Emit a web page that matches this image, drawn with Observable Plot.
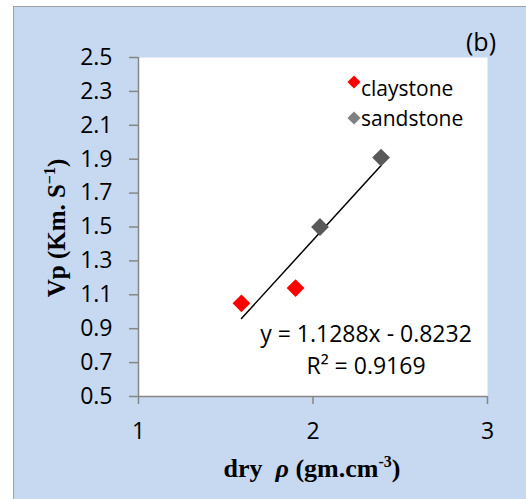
<!DOCTYPE html>
<html><head><meta charset="utf-8">
<script src="https://cdn.jsdelivr.net/npm/d3@7"></script>
<script src="https://cdn.jsdelivr.net/npm/@observablehq/plot@0.6"></script>
<style>
html,body{margin:0;padding:0;background:#fff;}
#wrap{position:relative;width:526px;height:499px;overflow:hidden;}
#panel{position:absolute;left:13px;top:6px;width:520px;height:500px;background:#c6d9f1;border-left:1.5px solid #a0a0a0;border-top:1.5px solid #a0a0a0;}
#chart{position:absolute;left:0;top:0;}
</style></head><body>
<div id="wrap"><div id="panel"></div><div id="chart"></div></div>
<script>
// ---- data ----
const series = ["claystone", "sandstone"];
const seriesColors = ["#ff0000", "#595959"];
const legendColors = ["#ff0000", "#808080"];
const claystoneRho = [1.59, 1.90];
const claystoneVp = [1.05, 1.14];
const sandstoneRho = [2.04, 2.39];
const sandstoneVp = [1.50, 1.91];
const xTicks = [1, 2, 3];
const yTicks = [0.5, 0.7, 0.9, 1.1, 1.3, 1.5, 1.7, 1.9, 2.1, 2.3, 2.5];
const slope = 1.1288, intercept = -0.8232, r2 = 0.9169;
const panelLabel = "(b)";

const points = [
  ...claystoneRho.map((r, i) => ({series: "claystone", rho: r, vp: claystoneVp[i]})),
  ...sandstoneRho.map((r, i) => ({series: "sandstone", rho: r, vp: sandstoneVp[i]}))
];
const eqText = `y = ${slope}x - ${Math.abs(intercept)}\nR² = ${r2}`;

const axisGrey = "#868686";
const fs = 23;
const plot = Plot.plot({
  width: 526, height: 499,
  marginLeft: 138, marginRight: 39, marginTop: 57, marginBottom: 103,
  style: {fontFamily: "'Open Sans'", fontSize: fs + "px", background: "transparent", color: "#000", overflow: "visible"},
  x: {domain: [1, 3]},
  y: {domain: [0.5, 2.5]},
  color: {domain: series, range: seriesColors},
  marks: [
    Plot.frame({fill: "white", stroke: null}),
    Plot.axisY({ticks: yTicks, tickFormat: d3.format(".1f"), tickSize: 9, tickPadding: 17, stroke: axisGrey, strokeWidth: 1.5, fill: "#000", label: null, fontSize: fs}),
    Plot.axisX({ticks: xTicks, tickFormat: d3.format("d"), tickSize: 8, tickPadding: 18, stroke: axisGrey, strokeWidth: 1.5, fill: "#000", label: null, fontSize: fs}),
    Plot.ruleX([1], {stroke: axisGrey, strokeWidth: 1.5}),
    Plot.ruleY([0.5], {stroke: axisGrey, strokeWidth: 1.5}),
    Plot.linearRegressionY(points, {x: "rho", y: "vp", stroke: "black", strokeWidth: 1.5, ci: 0}),
    Plot.dot(points, {x: "rho", y: "vp", fill: "series", symbol: "diamond2", r: 8, stroke: null}),
    Plot.text([eqText], {frameAnchor: "bottom", dx: 53, dy: -49, lineAnchor: "middle", lineHeight: 1.43, fontSize: fs, fill: "#000"})
  ]
});
document.getElementById("chart").appendChild(plot);

const svg = d3.select(plot);
// legend
const lg = svg.append("g").attr("text-anchor", "start");
const legendY = [96, 126];
const diamondY = [82, 118];
series.forEach((s, i) => {
  lg.append("path")
    .attr("d", d3.symbol(d3.symbolDiamond2, 110)())
    .attr("transform", `translate(354,${diamondY[i]})`)
    .attr("fill", legendColors[i]);
  lg.append("text").attr("x", 361).attr("y", legendY[i]).attr("text-anchor", "start")
    .attr("font-family", "'Open Sans'").attr("font-size", 21).attr("fill", "#000").text(s);
});
// panel label
svg.append("text").attr("x", 481).attr("y", 51).attr("text-anchor", "middle")
  .attr("font-family", "'Open Sans'").attr("font-size", 25).attr("fill", "#000").text(panelLabel);
// x title
const xt = svg.append("text").attr("x", 312).attr("y", 477).attr("text-anchor", "middle")
  .attr("font-family", "'Liberation Serif', serif").attr("font-size", 26).attr("font-weight", "bold").attr("fill", "#000");
xt.append("tspan").text("dry  ");
xt.append("tspan").attr("font-style", "italic").text("ρ");
xt.append("tspan").text(" (gm.cm");
xt.append("tspan").attr("font-size", 16).attr("dy", -10).text("-3");
xt.append("tspan").attr("dy", 10).text(")");
// y title
const yt = svg.append("text").attr("transform", "translate(65,228) rotate(-90)").attr("text-anchor", "middle")
  .attr("font-family", "'Liberation Serif', serif").attr("font-size", 25).attr("font-weight", "bold").attr("fill", "#000");
yt.append("tspan").text("Vp (Km. S");
yt.append("tspan").attr("font-size", 16).attr("dy", -10).text("−1");
yt.append("tspan").attr("dy", 10).text(")");
</script>
</body></html>
